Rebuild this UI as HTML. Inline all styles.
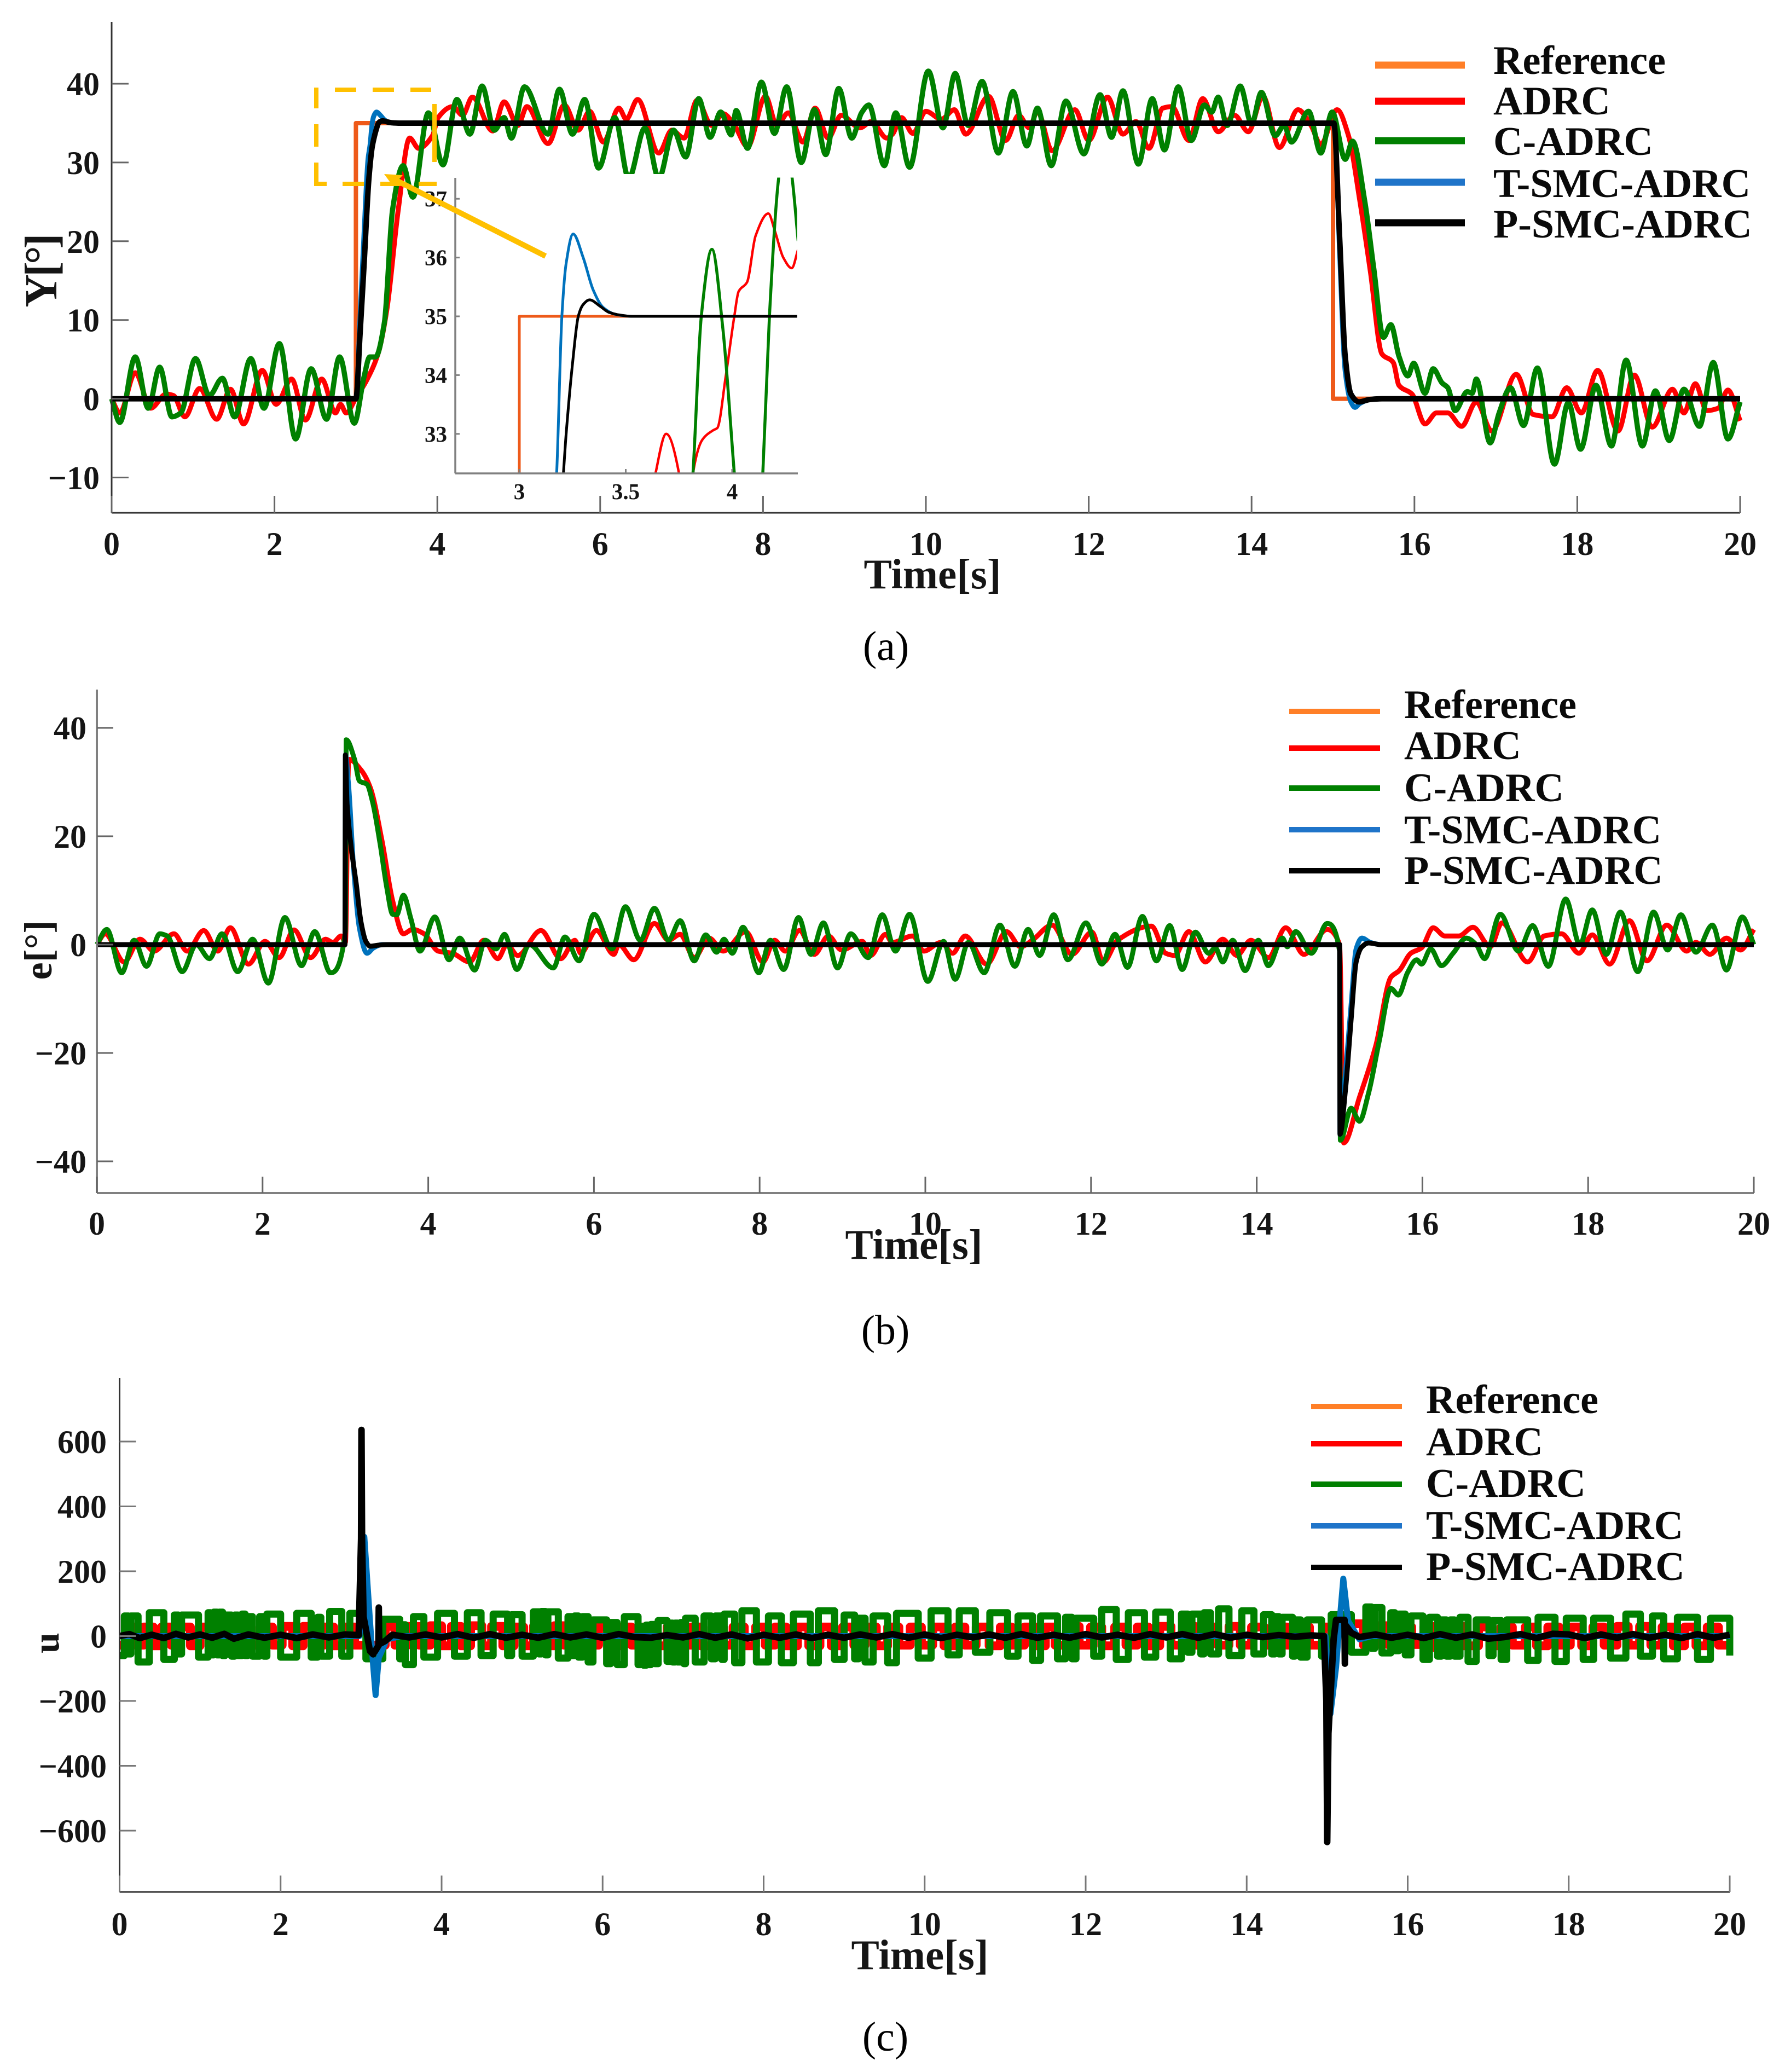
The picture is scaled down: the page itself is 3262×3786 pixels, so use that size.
<!DOCTYPE html>
<html lang="en">
<head>
<meta charset="utf-8">
<title>Control response comparison</title>
<style>
html,body{margin:0;padding:0;background:#fff;width:3262px;height:3786px;overflow:hidden;}
svg{display:block;position:absolute;left:0;top:0;}
text{font-family:"Liberation Serif",serif;fill:#151515;}
.tick{font-size:60px;font-weight:bold;}
.inset-tick{font-size:41px;font-weight:bold;}
.axis-title{font-size:77px;font-weight:bold;}
.legend{font-size:74px;font-weight:bold;fill:#0a0a0a;}
.caption{font-size:76px;font-weight:normal;text-anchor:middle;fill:#000;}
</style>
</head>
<body>
<svg id="figure" xmlns="http://www.w3.org/2000/svg" width="3262" height="3786" viewBox="0 0 3262 3786">
  <rect x="0" y="0" width="3262" height="3786" fill="#fff"/>
  <g id="panel-a"></g>
  <g id="panel-b"></g>
  <g id="panel-c"></g>

  <g>
    <text transform="translate(103,494) rotate(-90)" text-anchor="middle" font-size="84" font-weight="bold" textLength="135" lengthAdjust="spacing">Y[°]</text>
    <text class="axis-title" x="1704" y="1075" text-anchor="middle">Time[s]</text>
    <text class="caption" x="1619" y="1206">(a)</text>
  </g>
  <g>
    <text transform="translate(94,1736) rotate(-90)" text-anchor="middle" font-size="72" font-weight="bold">e[°]</text>
    <text class="axis-title" x="1670" y="2300" text-anchor="middle">Time[s]</text>
    <text class="caption" x="1618" y="2456">(b)</text>
  </g>
  <g>
    <text transform="translate(107,3002) rotate(-90)" text-anchor="middle" font-size="68" font-weight="bold">u</text>
    <text class="axis-title" x="1681" y="3598" text-anchor="middle">Time[s]</text>
    <text class="caption" x="1618" y="3747">(c)</text>
  </g>

  <g>
    <line x1="2513" x2="2677" y1="119" y2="119" stroke="#ff7f27" stroke-width="13"/>
    <line x1="2513" x2="2677" y1="185" y2="185" stroke="#ff0000" stroke-width="13"/>
    <line x1="2513" x2="2677" y1="257" y2="257" stroke="#008000" stroke-width="13"/>
    <line x1="2513" x2="2677" y1="333" y2="333" stroke="#1f74c9" stroke-width="13"/>
    <line x1="2513" x2="2677" y1="407" y2="407" stroke="#000" stroke-width="13"/>
    <text class="legend" x="2729" y="135">Reference</text>
    <text class="legend" x="2729" y="209">ADRC</text>
    <text class="legend" x="2729" y="283">C-ADRC</text>
    <text class="legend" x="2729" y="360">T-SMC-ADRC</text>
    <text class="legend" x="2729" y="434">P-SMC-ADRC</text>
  </g>
  <g>
    <line x1="2356" x2="2522" y1="1300" y2="1300" stroke="#ff7f27" stroke-width="10"/>
    <line x1="2356" x2="2522" y1="1367" y2="1367" stroke="#ff0000" stroke-width="10"/>
    <line x1="2356" x2="2522" y1="1440" y2="1440" stroke="#008000" stroke-width="10"/>
    <line x1="2356" x2="2522" y1="1516" y2="1516" stroke="#1f74c9" stroke-width="10"/>
    <line x1="2356" x2="2522" y1="1591" y2="1591" stroke="#000" stroke-width="10"/>
    <text class="legend" x="2566" y="1312">Reference</text>
    <text class="legend" x="2566" y="1387">ADRC</text>
    <text class="legend" x="2566" y="1464">C-ADRC</text>
    <text class="legend" x="2566" y="1541">T-SMC-ADRC</text>
    <text class="legend" x="2566" y="1615">P-SMC-ADRC</text>
  </g>
  <g>
    <line x1="2396" x2="2562" y1="2570" y2="2570" stroke="#ff7f27" stroke-width="10"/>
    <line x1="2396" x2="2562" y1="2638" y2="2638" stroke="#ff0000" stroke-width="10"/>
    <line x1="2396" x2="2562" y1="2712" y2="2712" stroke="#008000" stroke-width="10"/>
    <line x1="2396" x2="2562" y1="2788" y2="2788" stroke="#1f74c9" stroke-width="10"/>
    <line x1="2396" x2="2562" y1="2864" y2="2864" stroke="#000" stroke-width="10"/>
    <text class="legend" x="2606" y="2582">Reference</text>
    <text class="legend" x="2606" y="2659">ADRC</text>
    <text class="legend" x="2606" y="2735">C-ADRC</text>
    <text class="legend" x="2606" y="2812">T-SMC-ADRC</text>
    <text class="legend" x="2606" y="2887">P-SMC-ADRC</text>
  </g>
</svg>
<script>
// ---------- shared tick data ----------
const timeTicks = [0,2,4,6,8,10,12,14,16,18,20];
const angleTicks = [40,30,20,10,0,-10];
const errorTicks = [40,20,0,-20,-40];
const controlTicks = [600,400,200,0,-200,-400,-600];
const insetTimeTicks = [3,3.5,4];
const insetAngleTicks = [37,36,35,34,33];

// ---------- panel (a): output angle, [time s, degrees] ----------
const angleReference = [[0,0],[3,0],[3,35],[15,35],[15,0],[20,0]];
const angleAdrc = [[0,0],[.1,-1.8],[.29,3.3],[.48,-1.2],[.67,.6],[.76,.4],[.9,-2.3],[1.08,1.3],[1.29,-2.6],[1.46,1.2],[1.62,-3.2],[1.85,3.6],[2.02,-.7],[2.21,2.5],[2.38,-2.7],[2.58,2.5],[2.75,-1.8],[2.81,-.7],[2.88,-1.8],[3,.1],[3.14,2.5],[3.28,6],[3.38,11.3],[3.52,24],[3.66,33.1],[3.77,31.8],[3.94,33.4],[4.01,35.7],[4.19,37.1],[4.31,36],[4.43,38.3],[4.68,34],[4.82,37.7],[4.99,34.7],[5.1,37.1],[5.36,32.4],[5.56,37.3],[5.73,34.1],[5.87,36.5],[6.04,32.6],[6.23,36.9],[6.32,35.5],[6.46,38],[6.72,31.2],[6.88,34.1],[7.03,33.1],[7.19,37.9],[7.37,34.7],[7.51,36.2],[7.65,34.7],[7.81,32],[8.03,38.4],[8.17,34.7],[8.31,36.3],[8.49,32.6],[8.64,36.9],[8.8,33.1],[8.96,36],[9.19,34.4],[9.33,35.2],[9.52,33.1],[9.59,33.6],[9.7,35.7],[9.84,33.7],[10,36.5],[10.19,35.5],[10.35,36.7],[10.49,33.6],[10.77,38.4],[10.98,32.8],[11.14,36],[11.27,34.4],[11.37,36.5],[11.55,31.5],[11.83,36.7],[12,32.8],[12.23,38.3],[12.42,33.6],[12.58,35.2],[12.74,31.8],[12.91,36.9],[13.02,37.1],[13.23,32.8],[13.4,38.1],[13.59,33.9],[13.79,36],[13.96,33.9],[14.14,38.4],[14.34,31.9],[14.57,36.7],[14.73,34.7],[14.85,32.3],[15.05,36.7],[15.19,33.4],[15.33,25.1],[15.46,16.1],[15.6,5.7],[15.74,4.6],[15.81,1.7],[15.97,.6],[16.13,-3.2],[16.27,-1.8],[16.41,-1.8],[16.58,-3.5],[16.76,-.4],[16.95,-4.1],[17.25,3.1],[17.46,-2],[17.69,-2.3],[17.87,1.4],[18.05,-1.8],[18.25,3.6],[18.5,-4.1],[18.7,3],[18.92,-3.6],[19.17,1.2],[19.31,-1.8],[19.45,1.9],[19.59,-1.5],[19.73,-1.2],[19.85,1.1],[20,-2.8]];
const angleCAdrc = [[0,0],[.1,-3],[.29,5.3],[.45,-1.2],[.59,4],[.74,-2.3],[.85,-1.8],[1.03,5.1],[1.2,.4],[1.36,2.6],[1.51,-2.3],[1.71,5.1],[1.87,-1.2],[2.06,7],[2.26,-5.1],[2.45,3.8],[2.64,-2.6],[2.8,5.3],[2.98,-3.1],[3.1,2.8],[3.17,5.3],[3.24,5.3],[3.35,9.7],[3.45,24],[3.58,29.6],[3.7,25.6],[3.89,36.3],[4.07,29.7],[4.24,38],[4.4,33.6],[4.55,39.7],[4.7,34.1],[4.82,35.7],[4.91,33.1],[5.07,39.6],[5.36,33.6],[5.5,39.3],[5.66,33.6],[5.81,38],[5.98,29.3],[6.18,35.7],[6.35,28],[6.55,34.4],[6.72,28],[6.9,34.1],[7.05,30.7],[7.21,38.1],[7.35,33.2],[7.48,36.4],[7.61,33.5],[7.67,36.6],[7.81,31.8],[7.98,40.2],[8.14,33.7],[8.29,39.6],[8.47,30],[8.63,36.7],[8.77,31],[8.93,39.4],[9.09,33.1],[9.21,36.3],[9.3,37.3],[9.49,29.6],[9.63,36.3],[9.8,29.4],[10.03,41.6],[10.21,34.4],[10.36,41.3],[10.52,34.7],[10.69,40.3],[10.89,31.2],[11.07,39],[11.24,32.1],[11.37,36.9],[11.54,29.6],[11.72,37.8],[11.94,31.1],[12.14,38.6],[12.28,33.2],[12.42,39.1],[12.61,29.8],[12.78,38.1],[12.93,31.6],[13.1,39.6],[13.26,32.8],[13.42,37.3],[13.51,36.4],[13.59,38.3],[13.7,34.7],[13.86,39.7],[14,34.9],[14.12,38.9],[14.29,33.4],[14.4,34.7],[14.49,32.6],[14.7,36.5],[14.85,31.2],[14.99,36.4],[15.15,30.4],[15.24,32.7],[15.39,25.1],[15.5,16.6],[15.62,7.8],[15.71,9.4],[15.81,5.4],[15.92,2.9],[15.99,4.5],[16.13,.7],[16.23,3.8],[16.34,2],[16.41,1.4],[16.5,-1.5],[16.65,.9],[16.71,.7],[16.76,2.5],[16.93,-5.6],[17.04,-1.8],[17.18,1.4],[17.34,-3.4],[17.51,3.9],[17.72,-8.3],[17.89,-.5],[18.04,-6.4],[18.23,1.7],[18.42,-6],[18.6,4.9],[18.8,-6],[18.96,1],[19.13,-5.3],[19.31,1.2],[19.5,-3.5],[19.67,4.6],[19.85,-5.1],[20,-.4]];
const angleTSmc = [[0,0],[3,0],[3.05,10],[3.1,21],[3.15,30.5],[3.175,32.3],[3.2,35],[3.22,35.9],[3.253,36.4],[3.3,36],[3.347,35.45],[3.394,35.15],[3.456,35.03],[3.53,35],[15,35],[15.03,33],[15.08,19],[15.15,3.5],[15.22,-.4],[15.27,-1.1],[15.33,-.6],[15.45,-.1],[15.6,0],[20,0]];
const anglePSmc = [[0,0],[3,0],[3.05,8],[3.1,17],[3.16,28],[3.2,32],[3.22,33],[3.25,34.2],[3.277,35],[3.3,35.2],[3.33,35.28],[3.38,35.17],[3.42,35.07],[3.46,35.03],[3.53,35],[15,35],[15.01,35],[15.08,20.8],[15.15,5.4],[15.22,.6],[15.32,-.4],[15.45,-.1],[15.6,0],[20,0]];
// inset close-up of the ADRC and C-ADRC traces
const insetAdrc = [[3.58,31],[3.64,32.33],[3.69,33],[3.75,32.33],[3.78,31],[3.79,31],[3.816,32.33],[3.86,32.9],[3.91,33.06],[3.93,33.1],[3.97,33.98],[4.01,35],[4.03,35.42],[4.07,35.58],[4.11,36.37],[4.17,36.75],[4.2,36.46],[4.24,36],[4.28,35.82],[4.31,36.14]];
const insetCAdrc = [[3.79,31],[3.816,32.33],[3.855,35],[3.905,36.14],[3.956,34.8],[4.01,32.33],[4.04,31],[4.12,31],[4.144,32.33],[4.175,35],[4.22,37.4],[4.25,38],[4.28,37.4],[4.31,36.28]];

// ---------- panel (b): tracking error, [time s, degrees] ----------
const errorAdrc = [[0,0],[.1,2],[.33,-3.2],[.52,1],[.69,-1.2],[.93,2],[1.09,-1.2],[1.29,2.6],[1.46,-1.2],[1.61,3.1],[1.83,-3.6],[2.03,.6],[2.2,-2.4],[2.38,2.7],[2.58,-2.4],[2.76,1],[2.85,.4],[2.95,1.6],[3,.4],[3.04,34.2],[3.19,32.2],[3.3,29],[3.44,19.3],[3.57,8.1],[3.7,2],[3.81,2.8],[3.95,2],[4.12,-1.2],[4.29,-1.6],[4.5,-3.2],[4.67,.8],[4.84,-2.6],[4.95,0],[5.08,-2],[5.36,2.6],[5.6,-2.6],[5.77,.8],[5.84,-1.6],[6.03,2.6],[6.24,-1.8],[6.3,0],[6.48,-2.8],[6.73,3.9],[6.9,.8],[7.04,1.9],[7.21,-2.4],[7.39,1.2],[7.56,-1.2],[7.83,2.4],[8.04,-3.2],[8.18,.8],[8.31,-1.2],[8.48,2.6],[8.66,-1.8],[8.83,1.6],[8.99,-1],[9.24,.6],[9.34,-2],[9.52,1.9],[9.6,.4],[9.85,1.6],[9.98,-1.2],[10.19,.4],[10.33,-1.6],[10.48,1.6],[10.74,-3.6],[10.98,2.4],[11.15,-.4],[11.29,.8],[11.53,3.6],[11.77,-1.8],[12.01,2.3],[12.15,-3.2],[12.32,.8],[12.73,3.4],[12.9,-1.6],[13.01,-2],[13.18,2.4],[13.38,-3.2],[13.59,1],[13.76,-2],[13.93,.8],[14.14,-2.4],[14.35,3.1],[14.57,-1.8],[14.85,2.8],[15,0],[15.05,-36.6],[15.24,-28.2],[15.44,-18.5],[15.62,-6],[15.72,-4.8],[15.86,-1.6],[15.99,-.6],[16.13,3.1],[16.27,1.6],[16.44,1.6],[16.61,3.2],[16.82,-.4],[16.96,4],[17.27,-3.2],[17.47,1.6],[17.68,2],[17.89,-1.6],[18.05,1.8],[18.26,-3.6],[18.5,4.4],[18.71,-3],[18.95,3.6],[19.19,-1.2],[19.3,.4],[19.47,-1.8],[19.67,1.2],[19.84,-1],[20,2.8]];
const errorCAdrc = [[0,0],[.12,2.8],[.3,-5.2],[.45,.8],[.6,-4],[.76,2],[.85,1.6],[1.03,-5],[1.2,0],[1.36,-2.6],[1.51,2],[1.7,-5],[1.88,1],[2.07,-7.1],[2.27,5],[2.47,-3.9],[2.63,2.4],[2.82,-5.2],[3,2.4],[3.01,37.8],[3.11,34.2],[3.17,30.2],[3.26,29.6],[3.33,26.2],[3.42,18.5],[3.5,10.5],[3.57,5.6],[3.62,5.5],[3.7,9.1],[3.79,4.8],[3.9,-1.2],[4.08,5.1],[4.25,-2.8],[4.38,1.2],[4.56,-4.7],[4.69,.8],[4.82,-.8],[4.92,1.9],[5.07,-4.6],[5.22,0],[5.51,-4.3],[5.65,1.4],[5.82,-3],[6,5.6],[6.22,-.8],[6.38,7],[6.56,.8],[6.73,6.7],[6.9,.8],[7.04,4.4],[7.21,-3],[7.35,1.8],[7.48,-1.4],[7.57,1],[7.67,-1.6],[7.8,3.2],[7.99,-5.2],[8.13,.8],[8.29,-4.6],[8.47,5],[8.62,-1.8],[8.77,4],[8.94,-4.3],[9.1,2],[9.31,-2.4],[9.48,5.5],[9.64,-1.2],[9.81,5.6],[10.03,-6.8],[10.22,.6],[10.36,-6.4],[10.52,.4],[10.71,-5.2],[10.9,3.6],[11.08,-4],[11.24,2.8],[11.38,-2],[11.55,5.5],[11.72,-2.8],[11.94,4],[12.13,-3.6],[12.29,1.9],[12.44,-4.2],[12.62,5.2],[12.79,-3],[12.95,3.5],[13.1,-4.6],[13.26,2.3],[13.42,-1.6],[13.5,-.6],[13.59,-3.2],[13.71,.8],[13.86,-4.8],[14.02,.8],[14.14,-3.9],[14.31,1.2],[14.37,-.4],[14.47,2.4],[14.66,-1.6],[14.85,3.9],[15,-1.2],[15.01,-36.1],[15.14,-30.2],[15.24,-32.6],[15.35,-27.4],[15.48,-17.7],[15.62,-8.1],[15.71,-9.3],[15.82,-5.2],[15.93,-2.8],[15.99,-3.6],[16.1,-.8],[16.23,-3.9],[16.37,-1.6],[16.53,1.2],[16.65,0],[16.75,-2.6],[16.94,5.6],[17.16,-1.2],[17.33,3.5],[17.52,-4],[17.73,8.4],[17.9,0],[18.05,6.4],[18.22,-1.8],[18.39,6],[18.6,-5],[18.79,6],[18.96,-1],[19.12,5.5],[19.3,-1.4],[19.5,3.6],[19.67,-4.7],[19.86,5.1],[20,0]];
const errorTSmc = [[0,0],[2.995,0],[3,35],[3.04,29],[3.1,14],[3.17,3],[3.26,-1.6],[3.34,-.6],[3.44,0],[15,0],[15.005,-35],[15.07,-24],[15.14,-11],[15.2,-.8],[15.27,1.2],[15.37,.4],[15.5,0],[20,0]];
const errorPSmc = [[0,0],[2.995,0],[3,35],[3.02,26],[3.07,18],[3.13,11.3],[3.19,4],[3.25,.5],[3.3,-.3],[3.4,-.1],[3.5,0],[15,0],[15.005,-35],[15.07,-27],[15.14,-13.7],[15.2,-3.2],[15.27,-.4],[15.35,.3],[15.5,0],[20,0]];

// ---------- panel (c): control signal, [time s, level] ----------
const controlAdrc = [[0,-28],[.08,28],[.2,-28],[.3,28],[.42,-30],[.52,28],[.64,-28],[.76,28],[.88,-30],[1.0,28],[1.14,-28],[1.26,30],[1.38,-28],[1.5,28],[1.64,-28],[1.76,28],[1.9,-28],[2.02,30],[2.15,-30],[2.28,30],[2.42,-28],[2.54,28],[2.66,-30],[2.78,28],[2.92,-28],[3.3,30],[3.42,-28],[3.58,30],[3.72,-28],[3.86,32],[4.0,-30],[4.12,30],[4.24,-30],[4.36,32],[4.5,-30],[4.62,30],[4.76,-30],[4.9,28],[5.02,-30],[5.14,30],[5.26,-30],[5.4,32],[5.52,-28],[5.65,30],[5.8,-28],[5.95,28],[6.1,-30],[6.24,28],[6.36,-28],[6.5,28],[6.66,-30],[6.8,28],[6.96,-28],[7.1,28],[7.22,-30],[7.36,28],[7.5,-28],[7.62,28],[7.76,-30],[7.9,28],[8.02,-28],[8.14,28],[8.28,-30],[8.42,28],[8.56,-30],[8.7,28],[8.84,-30],[8.98,28],[9.12,-28],[9.26,28],[9.4,-30],[9.54,28],[9.68,-28],[9.82,28],[9.96,-28],[10.1,28],[10.24,-30],[10.38,28],[10.5,-28],[10.64,28],[10.8,-30],[10.94,28],[11.08,-28],[11.24,28],[11.38,-30],[11.5,28],[11.62,-28],[11.78,30],[11.92,-28],[12.06,28],[12.2,-30],[12.36,28],[12.5,-28],[12.64,28],[12.78,-30],[12.92,30],[13.06,-28],[13.2,30],[13.36,-28],[13.5,28],[13.64,-28],[13.78,30],[13.92,-28],[14.06,28],[14.22,-28],[14.36,28],[14.5,-28],[14.64,28],[14.78,-28],[14.95,28],[15.3,38],[15.45,-28],[15.6,32],[15.75,-26],[15.9,28],[16.05,-26],[16.2,30],[16.35,-38],[16.42,30],[16.7,-30],[16.88,28],[17.02,-30],[17.16,28],[17.3,-28],[17.46,28],[17.6,-30],[17.74,28],[17.88,-28],[18.02,28],[18.16,-30],[18.3,28],[18.44,-28],[18.6,30],[18.74,-28],[18.88,30],[19.02,-28],[19.16,28],[19.3,-30],[19.44,28],[19.58,-30],[19.72,28],[19.86,-28],[20,-28]];
const controlCAdrc = [[0,-60],[.06,62],[.11,-55],[.14,62],[.23,-80],[.37,72],[.55,-72],[.68,65],[.73,-55],[.77,65],[.98,-65],[1.1,72],[1.13,-58],[1.17,74],[1.21,-58],[1.24,74],[1.28,-60],[1.31,65],[1.39,-62],[1.43,65],[1.47,-60],[1.52,68],[1.56,-60],[1.59,60],[1.65,-62],[1.74,60],[1.79,-62],[1.83,68],[2,-65],[2.2,70],[2.38,-65],[2.46,58],[2.5,-62],[2.61,76],[2.76,-62],[2.86,70],[3,80],[3.06,-70],[3.27,52],[3.48,-70],[3.52,35],[3.55,-88],[3.65,60],[3.78,-65],[3.95,70],[4.16,-62],[4.32,72],[4.49,-60],[4.64,68],[4.82,-60],[4.87,66],[5,-62],[5.14,75],[5.21,-55],[5.24,76],[5.29,-58],[5.32,75],[5.45,-68],[5.57,60],[5.62,-60],[5.65,62],[5.7,-65],[5.75,60],[5.82,-80],[5.88,50],[6.05,-85],[6.1,42],[6.18,-88],[6.27,60],[6.44,-88],[6.47,30],[6.51,-90],[6.54,34],[6.57,-88],[6.6,36],[6.65,-85],[6.69,48],[6.8,-78],[6.84,40],[6.87,-80],[6.9,40],[6.93,-80],[6.97,42],[7.01,-85],[7.03,55],[7.15,-80],[7.26,62],[7.35,-70],[7.4,62],[7.48,-72],[7.51,68],[7.64,-82],[7.73,78],[7.91,-80],[8.06,62],[8.22,-82],[8.37,68],[8.58,-82],[8.68,78],[8.88,-72],[9,65],[9.13,-70],[9.18,55],[9.26,-80],[9.36,62],[9.54,-82],[9.65,70],[9.92,-68],[10.08,78],[10.29,-58],[10.43,78],[10.63,-50],[10.81,72],[11.03,-62],[11.16,62],[11.34,-75],[11.44,62],[11.65,-70],[11.75,58],[11.83,-70],[11.88,55],[12.1,-62],[12.2,82],[12.38,-72],[12.53,72],[12.73,-65],[12.87,74],[13.05,-70],[13.19,68],[13.27,-50],[13.32,68],[13.43,-55],[13.47,72],[13.55,-55],[13.65,84],[13.78,-60],[13.94,78],[14.09,-55],[14.21,66],[14.31,-55],[14.35,60],[14.4,-55],[14.44,58],[14.57,-62],[14.6,50],[14.67,-65],[14.75,50],[14.93,-62],[15.05,66],[15.3,-50],[15.48,90],[15.55,-38],[15.59,88],[15.68,-52],[15.79,72],[15.84,-45],[15.89,68],[15.97,-58],[16.04,62],[16.19,-72],[16.27,58],[16.37,-62],[16.42,50],[16.48,-62],[16.53,50],[16.58,-62],[16.65,58],[16.75,-78],[16.85,50],[17.01,-60],[17.06,48],[17.16,-72],[17.23,50],[17.49,-75],[17.62,58],[17.83,-78],[17.97,55],[18.18,-72],[18.31,55],[18.52,-68],[18.71,68],[18.89,-62],[19.04,62],[19.18,-70],[19.35,58],[19.6,-72],[19.76,55],[20,-60]];
const controlTSmc = [[0,0],[2.98,0],[3.0,60],[3.04,306],[3.08,160],[3.11,47],[3.15,-90],[3.18,-182],[3.22,-67],[3.32,-10],[3.5,0],[14.98,0],[15.04,-240],[15.11,-96],[15.16,60],[15.2,177],[15.26,47],[15.4,-10],[15.55,0],[20,0]];
const controlPSmc = [[0,0],[.12,6],[.25,-6],[.4,4],[.55,-6],[.7,7],[.85,-4],[1.0,5],[1.15,-5],[1.3,7],[1.42,-8],[1.6,5],[1.8,-5],[2.0,4],[2.2,-6],[2.4,5],[2.6,-4],[2.8,5],[2.97,3],[3.0,300],[3.005,636],[3.012,300],[3.03,60],[3.11,-46],[3.15,-56],[3.19,-40],[3.215,-30],[3.22,88],[3.225,-25],[3.3,-15],[3.39,4],[3.6,-4],[3.8,5],[4.0,-4],[4.2,6],[4.4,-5],[4.6,6],[4.8,-5],[5.0,4],[5.2,-5],[5.4,6],[5.6,-4],[5.8,5],[6.0,-5],[6.2,6],[6.4,-3],[6.6,-5],[6.8,3],[7.0,-4],[7.2,6],[7.4,-5],[7.6,5],[7.8,-7],[8.0,4],[8.2,-5],[8.4,5],[8.6,-6],[8.8,4],[9.0,-5],[9.2,5],[9.4,-4],[9.6,6],[9.8,-5],[10.0,5],[10.2,-6],[10.4,4],[10.6,-4],[10.8,5],[11.0,-5],[11.2,6],[11.4,-5],[11.6,4],[11.8,-5],[12.0,6],[12.2,-4],[12.4,4],[12.6,-5],[12.8,6],[13.0,-4],[13.2,6],[13.4,-5],[13.6,6],[13.8,-5],[14.0,4],[14.2,-3],[14.4,3],[14.6,-2],[14.8,2],[14.96,0],[14.99,-200],[15.0,-635],[15.015,-300],[15.08,-10],[15.11,50],[15.215,50],[15.22,-85],[15.225,35],[15.3,10],[15.4,-3],[15.6,5],[15.8,-5],[16.0,4],[16.2,-6],[16.4,6],[16.6,-5],[16.8,5],[17.0,-8],[17.2,-3],[17.4,6],[17.6,-6],[17.8,7],[18.0,5],[18.2,-6],[18.4,5],[18.6,-5],[18.8,6],[19.0,-5],[19.2,4],[19.4,-6],[19.6,6],[19.8,-5],[20,4]];

// ---------- drawing helpers ----------
const SVG_NS = 'http://www.w3.org/2000/svg';
function make(parent, tag, attrs) {
  const node = document.createElementNS(SVG_NS, tag);
  for (const key in attrs) node.setAttribute(key, attrs[key]);
  parent.appendChild(node);
  return node;
}
function linearScale(d0, d1, r0, r1) {
  return function (v) { return r0 + (v - d0) * (r1 - r0) / (d1 - d0); };
}
// keep only the part of a trace inside the inset's window, so its geometry stays on the page
function windowTrace(pairs, tMax, vMin) {
  const kept = [];
  for (let i = 0; i < pairs.length; i++) {
    const t = pairs[i][0], v = pairs[i][1];
    if (t > tMax) {
      const prev = pairs[i - 1];
      const crossing = prev[1] + (v - prev[1]) * (tMax - prev[0]) / (t - prev[0]);
      kept.push([tMax, Math.max(crossing, vMin)]);
      break;
    }
    if (t >= tMax - 1.61) kept.push([t, Math.max(v, vMin)]);
  }
  return kept;
}
function linearPath(pairs, fx, fy) {
  return pairs.map(function (p, i) { return (i ? 'L' : 'M') + fx(p[0]).toFixed(1) + ' ' + fy(p[1]).toFixed(1); }).join('');
}
function stepPath(pairs, fx, fy) {
  let d = 'M' + fx(pairs[0][0]).toFixed(1) + ' ' + fy(pairs[0][1]).toFixed(1);
  for (let i = 1; i < pairs.length; i++) {
    d += 'L' + fx(pairs[i][0]).toFixed(1) + ' ' + fy(pairs[i - 1][1]).toFixed(1);
    d += 'L' + fx(pairs[i][0]).toFixed(1) + ' ' + fy(pairs[i][1]).toFixed(1);
  }
  return d;
}
// monotone cubic through the read-off extrema, so peaks stay flat-topped
function smoothPath(pairs, fx, fy) {
  const xs = pairs.map(function (p) { return fx(p[0]); });
  const ys = pairs.map(function (p) { return fy(p[1]); });
  const n = xs.length;
  const slopes = [];
  for (let i = 0; i < n - 1; i++) slopes.push((ys[i + 1] - ys[i]) / (xs[i + 1] - xs[i]));
  const tangents = [slopes[0]];
  for (let i = 1; i < n - 1; i++) {
    const s0 = slopes[i - 1], s1 = slopes[i];
    if (s0 * s1 <= 0) { tangents.push(0); continue; }
    const h0 = xs[i] - xs[i - 1], h1 = xs[i + 1] - xs[i];
    const w1 = 2 * h1 + h0, w2 = h1 + 2 * h0;
    tangents.push((w1 + w2) / (w1 / s0 + w2 / s1));
  }
  tangents.push(slopes[n - 2]);
  let d = 'M' + xs[0].toFixed(1) + ' ' + ys[0].toFixed(1);
  for (let i = 0; i < n - 1; i++) {
    const h = (xs[i + 1] - xs[i]) / 3;
    d += 'C' + (xs[i] + h).toFixed(1) + ' ' + (ys[i] + h * tangents[i]).toFixed(1) + ' ' +
      (xs[i + 1] - h).toFixed(1) + ' ' + (ys[i + 1] - h * tangents[i + 1]).toFixed(1) + ' ' +
      xs[i + 1].toFixed(1) + ' ' + ys[i + 1].toFixed(1);
  }
  return d;
}
function drawSeries(parent, seriesName, pathData, color, width, clipId) {
  const attrs = { d: pathData, fill: 'none', stroke: color, 'stroke-width': width, 'stroke-linejoin': 'round', 'stroke-linecap': 'butt' };
  if (clipId) attrs['clip-path'] = 'url(#' + clipId + ')';
  const line = make(parent, 'path', attrs);
  
  
  return line;
}
function label(value) {
  return String(value).replace('-', '\u2212');
}
function drawAxes(parent, fx, fy, box, xValues, yValues) {
  const xAxis = make(parent, 'line', { x1: box.left, x2: box.right, y1: box.bottom, y2: box.bottom, stroke: box.axisColor, 'stroke-width': box.axisWidth });
  
  
  const yAxis = make(parent, 'line', { x1: box.left, x2: box.left, y1: box.top, y2: box.bottom, stroke: box.axisColor, 'stroke-width': box.axisWidth });
  
  
  xValues.forEach(function (v) {
    const mark = make(parent, 'line', { x1: fx(v), x2: fx(v), y1: box.bottom, y2: box.bottom - box.tickLength, stroke: box.tickColor, 'stroke-width': box.tickWidth });
    
    
    const tickText = make(parent, 'text', { x: fx(v), y: box.xLabelY, 'text-anchor': 'middle', class: box.labelClass });
    
    
    tickText.textContent = label(v);
  });
  yValues.forEach(function (v) {
    const mark = make(parent, 'line', { x1: box.left, x2: box.left + box.tickLength, y1: fy(v), y2: fy(v), stroke: box.tickColor, 'stroke-width': box.tickWidth });
    
    
    const tickText = make(parent, 'text', { x: box.yLabelX, y: fy(v) + box.yLabelDy, 'text-anchor': 'end', class: box.labelClass });
    
    
    tickText.textContent = label(v);
  });
}

const COLORS = { reference: '#ee5a1a', adrc: '#ff0000', cadrc: '#008000', tsmc: '#0072bd', psmc: '#000000' };

// ---------- panel (a) ----------
(function () {
  const g = document.getElementById('panel-a');
  const fx = linearScale(0, 20, 204, 3180);
  const fy = linearScale(0, 40, 728.6, 153);
  drawSeries(g, 'reference-line', linearPath(angleReference, fx, fy), COLORS.reference, 8);
  drawSeries(g, 'adrc-line', smoothPath(angleAdrc, fx, fy), COLORS.adrc, 9);
  drawSeries(g, 'c-adrc-line', smoothPath(angleCAdrc, fx, fy), COLORS.cadrc, 9.5);
  drawSeries(g, 't-smc-adrc-line', smoothPath(angleTSmc, fx, fy), COLORS.tsmc, 9);
  drawSeries(g, 'p-smc-adrc-line', smoothPath(anglePSmc, fx, fy), COLORS.psmc, 10);
  drawAxes(g, fx, fy, { left: 204, right: 3180, top: 40, bottom: 937, axisColor: '#333', axisWidth: 3, tickColor: '#666', tickWidth: 3, tickLength: 31, xLabelY: 1014, yLabelX: 182, yLabelDy: 21, labelClass: 'tick' }, timeTicks, angleTicks);

  // inset
  const inset = make(g, 'g', {});
  
  
  const panel = make(inset, 'rect', { x: 826, y: 318, width: 640, height: 556, fill: '#fff' });
  
  
  const ix = linearScale(3, 4, 949, 1338);
  const iy = linearScale(35, 33, 578, 792.8);
  const clip = make(inset, 'clipPath', { id: 'inset-clip' });
  make(clip, 'rect', { x: ix(2.7), y: iy(37.36), width: ix(4.305) - ix(2.7), height: iy(32.33) - iy(37.36) });
  drawSeries(inset, 'inset-reference-line', linearPath(windowTrace(angleReference, 4.31, 32), ix, iy), COLORS.reference, 5, 'inset-clip');
  drawSeries(inset, 'inset-adrc-line', smoothPath(insetAdrc, ix, iy), COLORS.adrc, 4.5, 'inset-clip');
  drawSeries(inset, 'inset-c-adrc-line', smoothPath(insetCAdrc, ix, iy), COLORS.cadrc, 5.5, 'inset-clip');
  drawSeries(inset, 'inset-t-smc-adrc-line', smoothPath(windowTrace(angleTSmc, 4.31, 31), ix, iy), COLORS.tsmc, 5, 'inset-clip');
  drawSeries(inset, 'inset-p-smc-adrc-line', smoothPath(windowTrace(anglePSmc, 4.31, 31), ix, iy), COLORS.psmc, 5, 'inset-clip');
  drawAxes(inset, ix, iy, { left: 832, right: 1458, top: 325, bottom: 865, axisColor: '#808080', axisWidth: 3.5, tickColor: '#808080', tickWidth: 3, tickLength: 8, xLabelY: 912, yLabelX: 817, yLabelDy: 14, labelClass: 'inset-tick' }, insetTimeTicks, insetAngleTicks);

  // zoom callout
  const callout = make(g, 'g', { stroke: '#ffc000', 'stroke-width': 8, fill: 'none' });
  
  
  const dash = make(callout, 'path', { d: 'M612 164H651M681 164H720M750 164H788M578 160V198M578 227V268M578 297V340M578 336H597M626 336H665M695 336H732M765 336H798M794 190V296' });
  
  
  const arrowLine = make(callout, 'line', { x1: 997, y1: 468, x2: 725, y2: 330, 'stroke-width': 10 });
  
  
  const arrowHead = make(callout, 'polygon', { points: '702,318 736,320 718,340', fill: '#ffc000', stroke: 'none' });
  
  
})();

// ---------- panel (b) ----------
(function () {
  const g = document.getElementById('panel-b');
  const fx = linearScale(0, 20, 177, 3205);
  const fy = linearScale(0, 40, 1726, 1330);
  drawSeries(g, 'adrc-line', smoothPath(errorAdrc, fx, fy), COLORS.adrc, 9);
  drawSeries(g, 'c-adrc-line', smoothPath(errorCAdrc, fx, fy), COLORS.cadrc, 9);
  drawSeries(g, 't-smc-adrc-line', smoothPath(errorTSmc, fx, fy), COLORS.tsmc, 9);
  drawSeries(g, 'p-smc-adrc-line', smoothPath(errorPSmc, fx, fy), COLORS.psmc, 9);
  drawAxes(g, fx, fy, { left: 177, right: 3205, top: 1260, bottom: 2180, axisColor: '#808080', axisWidth: 4, tickColor: '#666', tickWidth: 3, tickLength: 30, xLabelY: 2256, yLabelX: 158, yLabelDy: 21, labelClass: 'tick' }, timeTicks, errorTicks);
})();

// ---------- panel (c) ----------
(function () {
  const g = document.getElementById('panel-c');
  const fx = linearScale(0, 20, 218.5, 3161);
  const fy = linearScale(0, 600, 2989.5, 2634);
  drawSeries(g, 'adrc-line', stepPath(controlAdrc, fx, fy), COLORS.adrc, 16);
  drawSeries(g, 'c-adrc-line', stepPath(controlCAdrc, fx, fy), COLORS.cadrc, 13);
  drawSeries(g, 't-smc-adrc-line', linearPath(controlTSmc, fx, fy), COLORS.tsmc, 11);
  drawSeries(g, 'p-smc-adrc-line', linearPath(controlPSmc, fx, fy), COLORS.psmc, 12);
  drawAxes(g, fx, fy, { left: 218.5, right: 3161, top: 2518, bottom: 3457, axisColor: '#333', axisWidth: 3, tickColor: '#777', tickWidth: 3, tickLength: 30, xLabelY: 3536, yLabelX: 195, yLabelDy: 21, labelClass: 'tick' }, timeTicks, controlTicks);
})();
</script>
</body>
</html>
